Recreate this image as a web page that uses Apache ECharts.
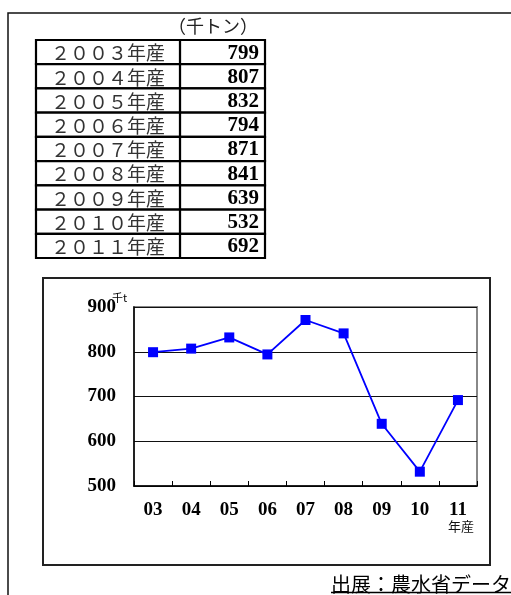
<!DOCTYPE html>
<html>
<head>
<meta charset="utf-8">
<script src="https://cdn.jsdelivr.net/npm/echarts@6/dist/echarts.min.js"></script>
<style>
  html, body { margin: 0; padding: 0; background: #fff; }
  #main { width: 511px; height: 595px; }
</style>
</head>
<body>
<div id="main"></div>
<script>
// Production by crop year (thousand tonnes)
const years = ['03', '04', '05', '06', '07', '08', '09', '10', '11'];
const rowLabels = ['２００３年産', '２００４年産', '２００５年産', '２００６年産', '２００７年産',
                   '２００８年産', '２００９年産', '２０１０年産', '２０１１年産'];
const production = [799, 807, 832, 794, 871, 841, 639, 532, 692];
const yTicks = [500, 600, 700, 800, 900];

const SERIF = '"Liberation Serif", "DejaVu Serif", serif';
const JP = '"Noto Sans CJK JP", sans-serif';

const chart = echarts.init(document.getElementById('main'), null, { renderer: 'canvas' });

// Share of the table width given to the label column
const LABEL_COL = 0.629;

const tableRows = rowLabels.map((label, i) => [0, i, production[i]]);

const option = {
  animation: false,
  backgroundColor: '#fff',
  title: [
    { text: '（千トン）', left: 168, top: 17, padding: 0,
      textStyle: { fontFamily: JP, fontSize: 18, fontWeight: 'normal', color: '#222' } },
    { text: '年産', left: 448, top: 520, padding: 0,
      textStyle: { fontFamily: JP, fontSize: 13, fontWeight: 'normal', color: '#111' } },
    { text: '千t', left: 112, top: 292, padding: 0,
      textStyle: { fontFamily: JP, fontSize: 11, fontWeight: 'normal', color: '#000' } }
  ],
  graphic: [
    // outer page frame
    { type: 'rect', shape: { x: 8, y: 13, width: 540, height: 620 },
      style: { fill: null, stroke: '#111', lineWidth: 1.5 }, z: 0 },
    // chart box
    { type: 'rect', shape: { x: 43, y: 278, width: 447, height: 287 },
      style: { fill: null, stroke: '#222', lineWidth: 2 }, z: 0 },
    // source note with underline
    { type: 'text', x: 331, y: 584,
      style: { text: '出展：農水省データ', font: '20px ' + JP, fill: '#000',
               verticalAlign: 'middle', align: 'left' } },
    { type: 'line', shape: { x1: 331, y1: 592.5, x2: 530, y2: 592.5 },
      style: { stroke: '#000', lineWidth: 1.5 } }
  ],
  grid: [
    { left: 36, top: 40, width: 229, height: 218, show: false },
    { left: 134, top: 307, width: 343, height: 179, show: true,
      borderColor: '#888', borderWidth: 2, backgroundColor: '#fff' }
  ],
  xAxis: [
    { gridIndex: 0, type: 'value', min: 0, max: 1, show: false },
    { gridIndex: 1, type: 'category', data: years, boundaryGap: true,
      axisLine: { lineStyle: { color: '#000', width: 1.5 } },
      axisTick: { show: true, inside: true, length: 5, lineStyle: { color: '#000', width: 1 } },
      axisLabel: { fontFamily: SERIF, fontWeight: 'bold', fontSize: 19, color: '#000', margin: 15 } }
  ],
  yAxis: [
    { gridIndex: 0, type: 'category', data: rowLabels, inverse: true, show: false },
    { gridIndex: 1, type: 'value', min: 500, max: 900, interval: 100,
      axisLine: { show: true, lineStyle: { color: '#000', width: 1.5 } },
      axisTick: { show: false },
      splitLine: { show: true, lineStyle: { color: '#111', width: 1 } },
      axisLabel: { fontFamily: SERIF, fontWeight: 'bold', fontSize: 19, color: '#000', margin: 18,
                   formatter: v => (yTicks.indexOf(v) >= 0 ? String(v) : '') } }
  ],
  series: [
    {
      // table of yearly figures: one row per crop year
      type: 'custom',
      xAxisIndex: 0, yAxisIndex: 0,
      clip: false,
      encode: { x: 0, y: 1 },
      data: tableRows,
      renderItem: function (params, api) {
        const row = api.value(1);
        const left = api.coord([0, row]);
        const right = api.coord([1, row]);
        const h = api.size([0, 1])[1];
        const x0 = left[0], x2 = right[0];
        const x1 = x0 + (x2 - x0) * LABEL_COL;
        const y0 = left[1] - h / 2;
        const cy = left[1];
        const cellStyle = { fill: '#fff', stroke: '#000', lineWidth: 2.2 };
        return {
          type: 'group',
          children: [
            { type: 'rect', shape: { x: x0, y: y0, width: x1 - x0, height: h }, style: cellStyle },
            { type: 'rect', shape: { x: x1, y: y0, width: x2 - x1, height: h }, style: cellStyle },
            { type: 'text', x: (x0 + x1) / 2, y: cy + 1,
              style: { text: rowLabels[params.dataIndex], font: '19px ' + JP, fill: '#333',
                       align: 'center', verticalAlign: 'middle' } },
            { type: 'text', x: x2 - 6, y: cy + 1,
              style: { text: String(api.value(2)), font: 'bold 21px ' + SERIF, fill: '#000',
                       align: 'right', verticalAlign: 'middle' } }
          ]
        };
      }
    },
    {
      type: 'line',
      xAxisIndex: 1, yAxisIndex: 1,
      data: production,
      symbol: 'rect',
      symbolSize: 10,
      showAllSymbol: true,
      lineStyle: { color: '#0000FF', width: 1.8 },
      itemStyle: { color: '#0000FF' },
      z: 5
    }
  ]
};

chart.setOption(option);
</script>
</body>
</html>
